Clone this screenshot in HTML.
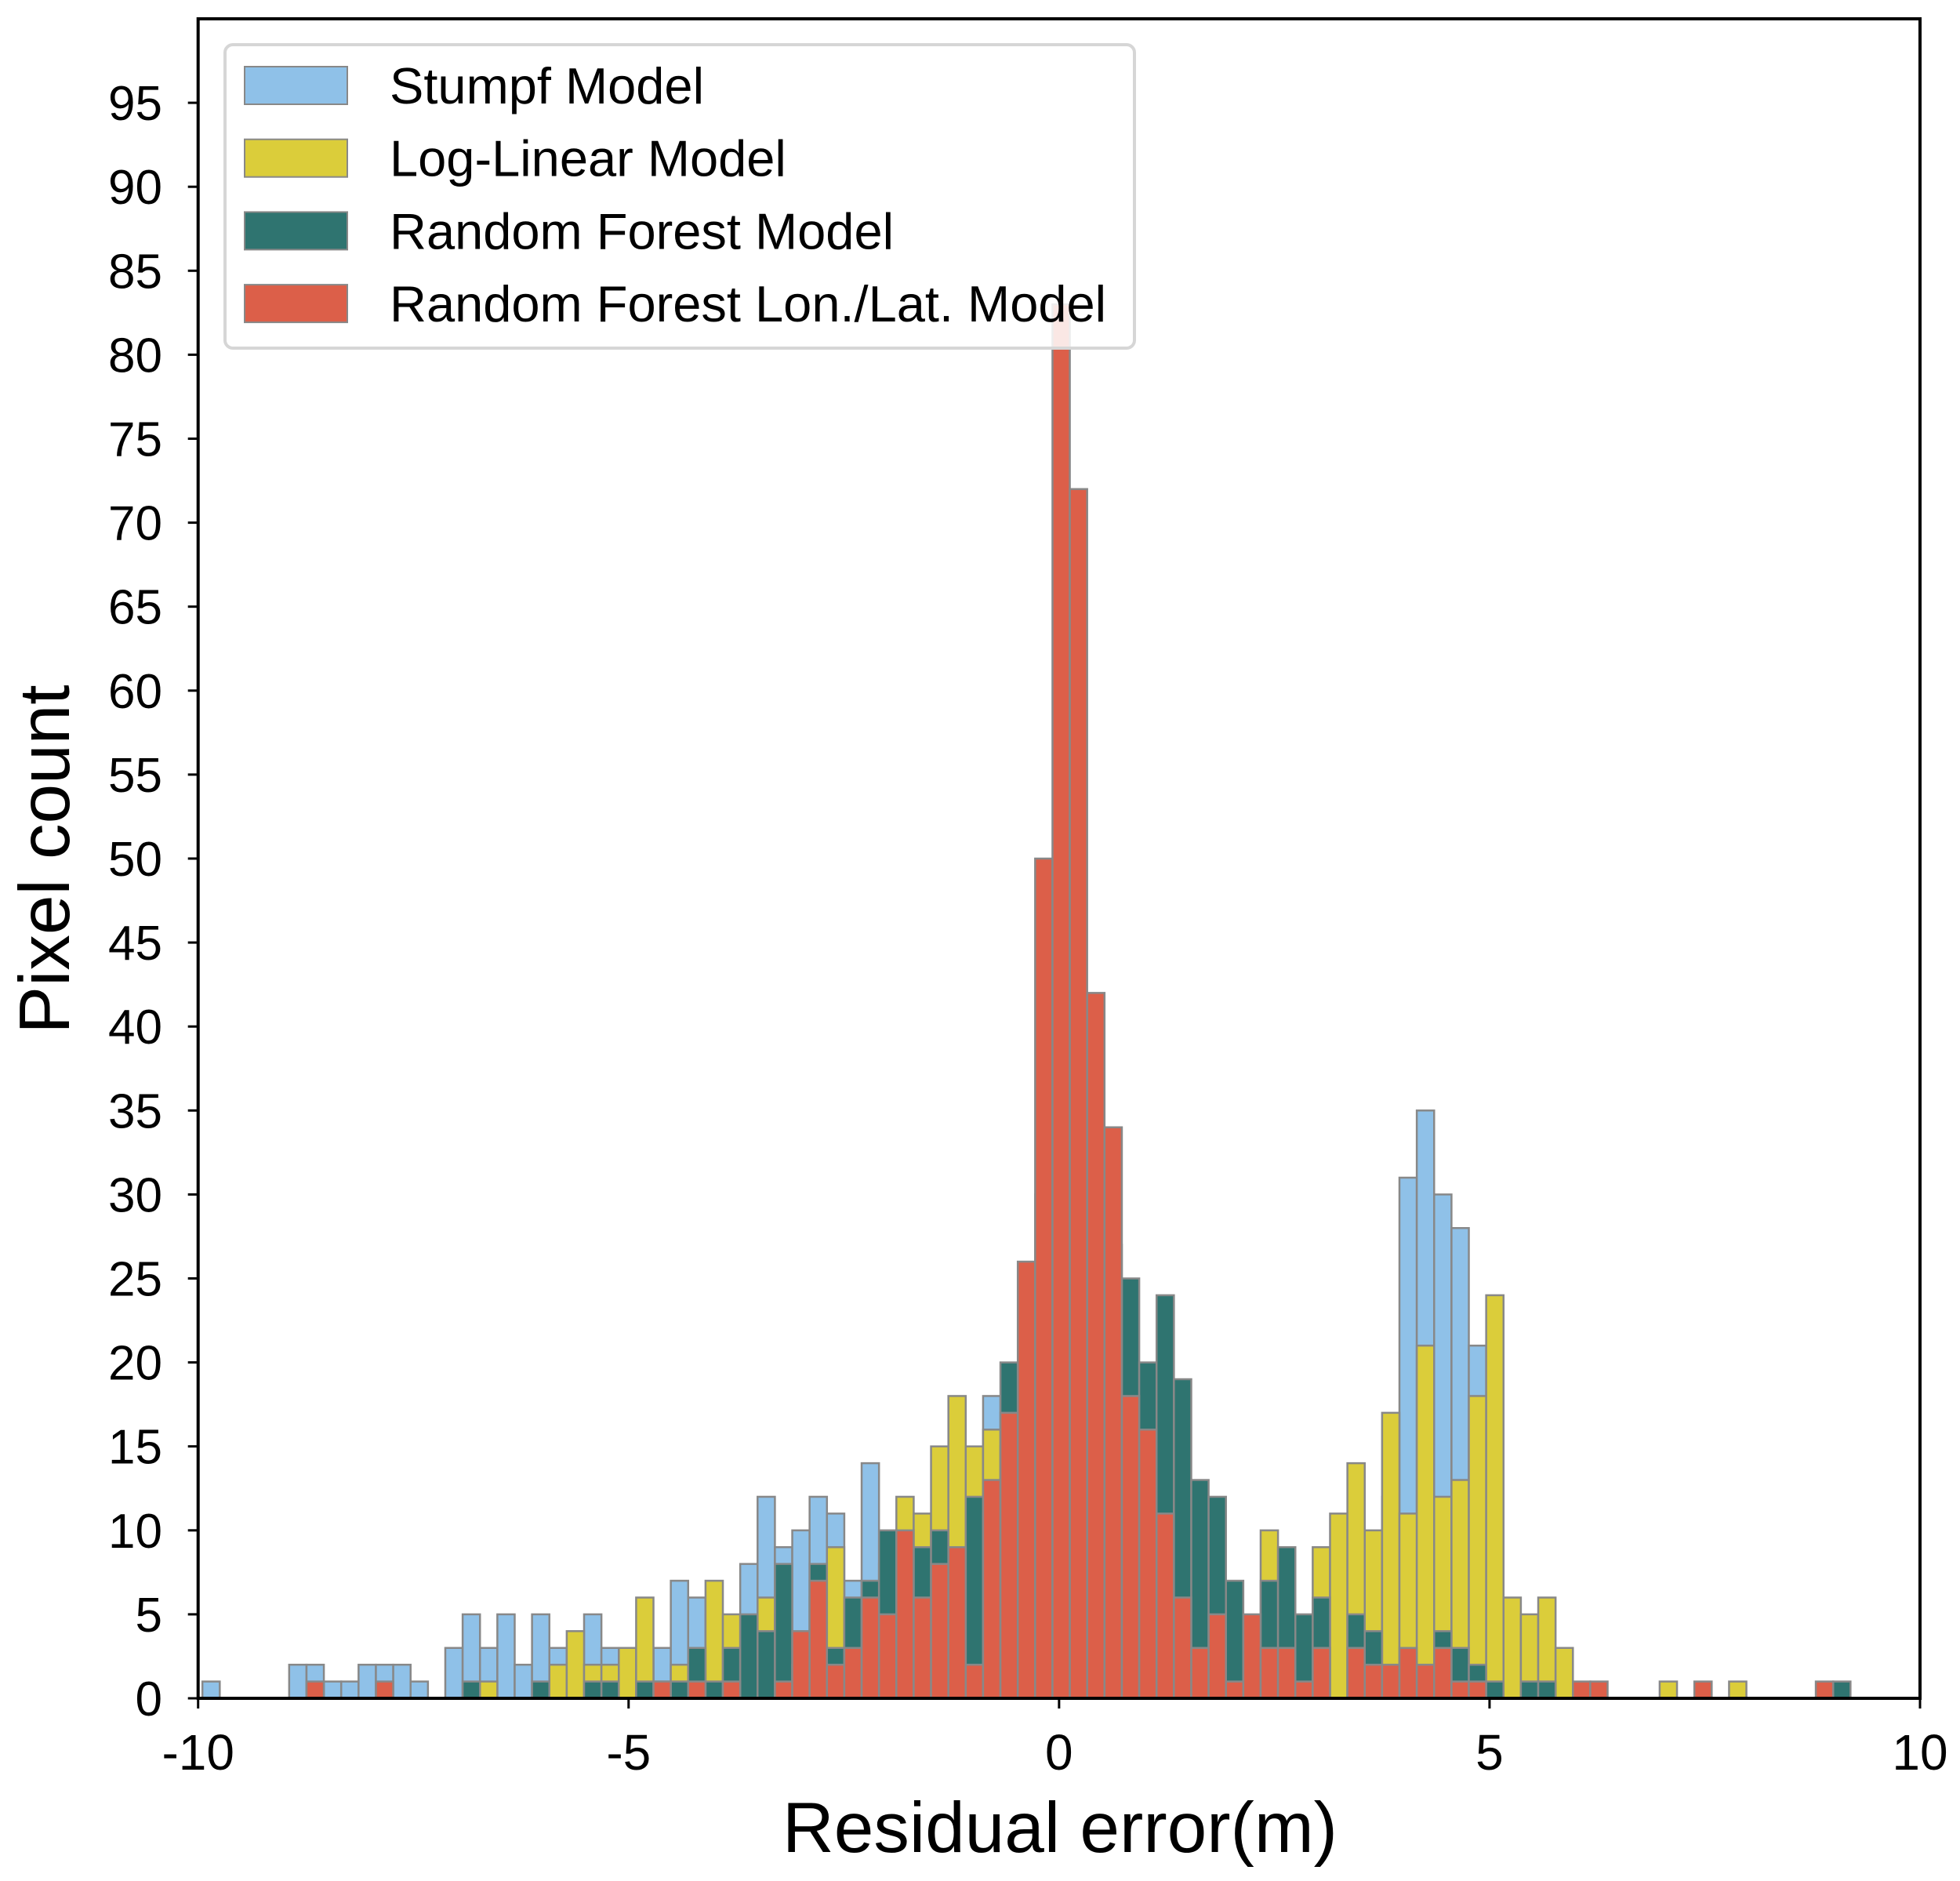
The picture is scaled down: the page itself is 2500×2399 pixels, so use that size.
<!DOCTYPE html>
<html><head><meta charset="utf-8"><style>
html,body{margin:0;padding:0;background:#fff;}
svg{display:block;}
text{font-family:"Liberation Sans",Arial,sans-serif;fill:#000;}
</style></head><body>
<svg id="chart" width="2500" height="2399" viewBox="0 0 2500 2399" xmlns="http://www.w3.org/2000/svg">
<g id="bars"></g>
<g id="axes"></g>
<g id="legend"></g>
</svg>
<script>
const binStart = -9.95;
const binWidth = 0.2015;
const seriesNames = ["Stumpf Model","Log-Linear Model","Random Forest Model","Random Forest Lon./Lat. Model"];
const stumpf = [1,0,0,0,0,2,2,1,1,2, 2,2,1,0,3,5,3,5,2,5, 3,3,5,3,2,3,3,7,6,5, 4,8,12,9,10,12,11,7,14,7, 9,8,11,13,12,18,14,14,18,20, 18,16,12,10,9,8,6,5,4,3, 3,4,3,2,4,5,8,9,12,31, 35,30,28,21,10,3,2,2,1,0, 0,0,0,0,0,0,0,0,0,0, 0,0,0,0,0];
const logLinear = [0,0,0,0,0,0,0,0,0,0, 0,0,0,0,0,0,1,0,0,0, 2,4,2,2,3,6,1,2,2,7, 5,3,6,5,3,6,9,4,5,8, 12,11,15,18,15,16,15,16,18,19, 17,15,12,10,9,8,7,6,5,4, 4,10,6,4,9,11,14,10,17,11, 21,12,13,18,24,6,5,6,3,0, 0,0,0,0,1,0,0,0,1,0, 0,0,0,0,0];
const randomForest = [0,0,0,0,0,0,0,0,0,0, 0,0,0,0,0,1,0,0,0,1, 0,0,1,1,0,1,0,1,3,1, 3,5,4,8,2,8,3,6,7,10, 8,9,10,7,12,11,20,20,30,35, 33,28,27,25,20,24,19,13,12,7, 4,7,9,5,6,0,5,4,1,2, 1,4,3,2,1,0,1,1,0,0, 0,0,0,0,0,0,0,0,0,0, 0,0,0,0,1];
const rfLonLat = [0,0,0,0,0,0,1,0,0,0, 1,0,0,0,0,0,0,0,0,0, 0,0,0,0,0,0,1,0,1,0, 1,0,0,1,4,7,2,3,6,5, 10,6,8,9,2,13,17,26,50,83, 72,42,34,18,16,11,6,3,5,1, 5,3,3,1,3,0,3,2,2,3, 2,3,1,1,0,0,0,0,0,1, 1,0,0,0,0,0,1,0,0,0, 0,0,0,1,0];
const xTicks = [-10,-5,0,5,10];
const xTickLabels = ["-10","-5","0","5","10"];
const yTicks = [0,5,10,15,20,25,30,35,40,45,50,55,60,65,70,75,80,85,90,95];

const NS="http://www.w3.org/2000/svg";
const L=252.7,R=2449,T=24,B=2166;
const xMin=-10,xMax=10;
function xs(v){return L+(v-xMin)/(xMax-xMin)*(R-L);}
function ys(v){return B-v*21.42;}
const colors=["#8fc1e8","#dbcd3a","#2f7470","#dc5f49"];
const allSeries=[stumpf,logLinear,randomForest,rfLonLat];
const barsG=document.getElementById('bars');
allSeries.forEach((arr,si)=>{
  const g=document.createElementNS(NS,'g');
  
  
  arr.forEach((v,i)=>{
    if(v<=0)return;
    const x0=xs(binStart+i*binWidth),x1=xs(binStart+(i+1)*binWidth);
    const r=document.createElementNS(NS,'rect');
    r.setAttribute('x',x0);r.setAttribute('y',ys(v));
    r.setAttribute('width',x1-x0);r.setAttribute('height',ys(0)-ys(v));
    r.setAttribute('fill',colors[si]);r.setAttribute('stroke','#888');r.setAttribute('stroke-width','2.5');
    
    
    g.appendChild(r);
  });
  barsG.appendChild(g);
});
const ax=document.getElementById('axes');
function el(tag,attrs,parent,txt){const e=document.createElementNS(NS,tag);for(const k in attrs)e.setAttribute(k,attrs[k]);if(txt!==undefined)e.textContent=txt;parent.appendChild(e);return e;}
const frame=el('rect',{x:L,y:T,width:R-L,height:B-T,fill:'none',stroke:'#000','stroke-width':4},ax);


xTicks.forEach((t,i)=>{
  const x=xs(t);
  const tk=el('line',{x1:x,x2:x,y1:B,y2:B+13,stroke:'#000','stroke-width':3},ax);
  
  
  const lb=el('text',{x:x,y:2257,'font-size':64,'text-anchor':'middle'},ax,xTickLabels[i]);
  
  
});
yTicks.forEach(t=>{
  const y=ys(t);
  const tk=el('line',{x1:L-13,x2:L,y1:y,y2:y,stroke:'#000','stroke-width':3},ax);
  
  
  const lb=el('text',{x:207,y:y+22,'font-size':62,'text-anchor':'end'},ax,String(t));
  
  
});
const xl=el('text',{x:1352,y:2362,'font-size':91,'text-anchor':'middle'},ax,'Residual error(m)');


const yl=el('text',{x:0,y:0,'font-size':91,'text-anchor':'middle',transform:'translate(88,1096) rotate(-90)'},ax,'Pixel count');


const lg=document.getElementById('legend');
const box=el('rect',{x:287,y:57,width:1160,height:387,rx:10,fill:'#fff','fill-opacity':0.85,stroke:'#d6d6d6','stroke-width':4},lg);


seriesNames.forEach((n,i)=>{
  const cy=109+i*92.7;
  const g=el('g',{},lg);
  
  
  el('rect',{x:312,y:cy-24,width:131,height:48,fill:colors[i],stroke:'#888','stroke-width':2},g);
  el('text',{x:497,y:cy+23,'font-size':65},g,n);
});
</script>
</body></html>
